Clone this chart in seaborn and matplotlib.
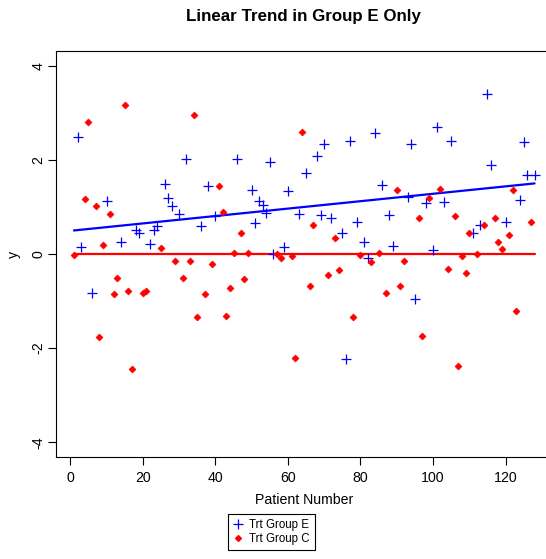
import numpy as np
import matplotlib
matplotlib.use("Agg")
import matplotlib.pyplot as plt
from matplotlib.lines import Line2D
import seaborn as sns
import pandas as pd

sns.set_style("white")
plt.rcParams['font.family'] = ['Liberation Sans', 'DejaVu Sans']
plt.rcParams['text.color'] = 'black'
plt.rcParams['axes.labelcolor'] = 'black'
plt.rcParams['xtick.color'] = 'black'
plt.rcParams['ytick.color'] = 'black'

# ---- data ----
patient = list(range(1, 129))
group = ["C","E","E","C","C","E","C","C","C","E",
         "C","C","C","E","C","C","C","E","E","C",
         "C","E","E","E","C","E","E","E","C","E",
         "C","E","C","C","C","E","C","E","C","E",
         "C","C","C","C","C","E","C","C","C","E",
         "E","E","E","E","E","E","C","C","E","E",
         "C","C","E","C","E","C","C","E","E","E",
         "C","E","C","C","E","E","E","C","E","C",
         "E","E","C","E","C","E","C","E","E","C",
         "C","C","E","E","E","C","C","E","C","E",
         "E","C","E","C","E","C","C","C","C","C",
         "E","C","E","C","E","E","C","C","C","E",
         "C","C","C","E","E","E","C","E"]
y_vals = [-0.03, 2.48, 0.15, 1.17, 2.81, -0.82, 1.02, -1.76, 0.19, 1.12,
          0.86, -0.84, -0.52, 0.25, 3.17, -0.79, -2.44, 0.50, 0.44, -0.83,
          -0.79, 0.22, 0.50, 0.60, 0.12, 1.49, 1.20, 1.01, -0.15, 0.85,
          -0.51, 2.01, -0.14, 2.96, -1.33, 0.59, -0.84, 1.44, -0.22, 0.80,
          1.45, 0.90, -1.31, -0.72, 0.02, 2.01, 0.44, -0.54, 0.03, 1.37,
          0.65, 1.12, 1.05, 0.88, 1.95, 0.00, 0.00, -0.08, 0.15, 1.33,
          -0.05, -2.22, 0.84, 2.60, 1.72, -0.68, 0.61, 2.08, 0.82, 2.34,
          -0.45, 0.76, 0.35, -0.34, 0.45, -2.24, 2.40, -1.33, 0.68, -0.02,
          0.26, -0.09, -0.17, 2.57, 0.03, 1.46, -0.82, 0.83, 0.16, 1.36,
          -0.67, -0.14, 1.22, 2.33, -0.96, 0.76, -1.75, 1.09, 1.20, 0.08,
          2.69, 1.38, 1.10, -0.32, 2.40, 0.80, -2.38, -0.05, -0.41, 0.44,
          0.44, 0.00, 0.62, 0.61, 3.40, 1.90, 0.77, 0.25, 0.10, 0.69,
          0.40, 1.37, -1.21, 1.14, 2.38, 1.67, 0.68, 1.68]

trend_x = [1, 128]
trend_E = [0.50, 1.50]
trend_C = [0.00, 0.00]

x_ticks = [0, 20, 40, 60, 80, 100, 120]
y_ticks = [-4, -2, 0, 2, 4]
y_tick_labels = ["-4", "-2", "0", "2", "4"]

df = pd.DataFrame({"patient": patient, "group": group, "y": y_vals})
dfE = df[df.group == "E"]
dfC = df[df.group == "C"]

# ---- figure ----
W, H = 546, 559
fig = plt.figure(figsize=(W / 100, H / 100), dpi=100)
left, right, top, bottom = 55.5, 553.0, 50.7, 457.3
ax = fig.add_axes([left / W, 1 - bottom / H, (right - left) / W, (bottom - top) / H])

sns.scatterplot(data=dfE, x="patient", y="y", marker="+", s=55, color="#0000FF",
                linewidth=0.9, ax=ax, legend=False, zorder=3)
sns.scatterplot(data=dfC, x="patient", y="y", marker="D", s=13, color="#FF0000",
                edgecolor="#FF0000", linewidth=0.4, ax=ax, legend=False, zorder=3)
sns.lineplot(x=trend_x, y=trend_E, color="#0000FF", linewidth=1.6, ax=ax, zorder=2)
sns.lineplot(x=trend_x, y=trend_C, color="#FF0000", linewidth=1.6, ax=ax, zorder=2)

ax.set_xlim(-4.08, 133.08)
ax.set_ylim(-4.32, 4.32)
ax.set_xticks(x_ticks)
ax.set_xticklabels([str(v) for v in x_ticks], fontsize=10.2)
ax.set_yticks(y_ticks)
ax.set_yticklabels(y_tick_labels, fontsize=10.2, rotation=90, va="center")
ax.tick_params(axis="both", direction="out", length=6.1, width=0.8, color="black",
               bottom=True, left=True)
ax.tick_params(axis="x", pad=4)
ax.tick_params(axis="y", pad=1)
ax.set_xlabel("")
ax.set_ylabel("")
for sp in ax.spines.values():
    sp.set_visible(True)
    sp.set_color("black")
    sp.set_linewidth(0.8)

fig.text(303.9 / W, 1 - 16 / H, "Linear Trend in Group E Only", ha="center", va="center",
         fontsize=12.2, fontweight="bold")
fig.text(304.2 / W, 1 - 500 / H, "Patient Number", ha="center", va="center", fontsize=10.2)
fig.text(14 / W, 1 - 254 / H, "y", ha="center", va="center", rotation=90, fontsize=10.2)

handles = [Line2D([], [], linestyle="none", marker="+", markersize=7, markeredgewidth=0.9,
                  color="#0000FF"),
           Line2D([], [], linestyle="none", marker="D", markersize=3.0, color="#FF0000")]
leg = fig.legend(handles, ["Trt Group E", "Trt Group C"], loc="upper center",
                 bbox_to_anchor=(271.7 / W, 1 - 514 / H), fontsize=8.3, frameon=True,
                 fancybox=False, edgecolor="black", handlelength=0.8, handletextpad=0.6,
                 borderpad=0.45, labelspacing=0.15, borderaxespad=0, framealpha=1)
leg.get_frame().set_linewidth(0.8)

fig.savefig("out.png", dpi=100)
